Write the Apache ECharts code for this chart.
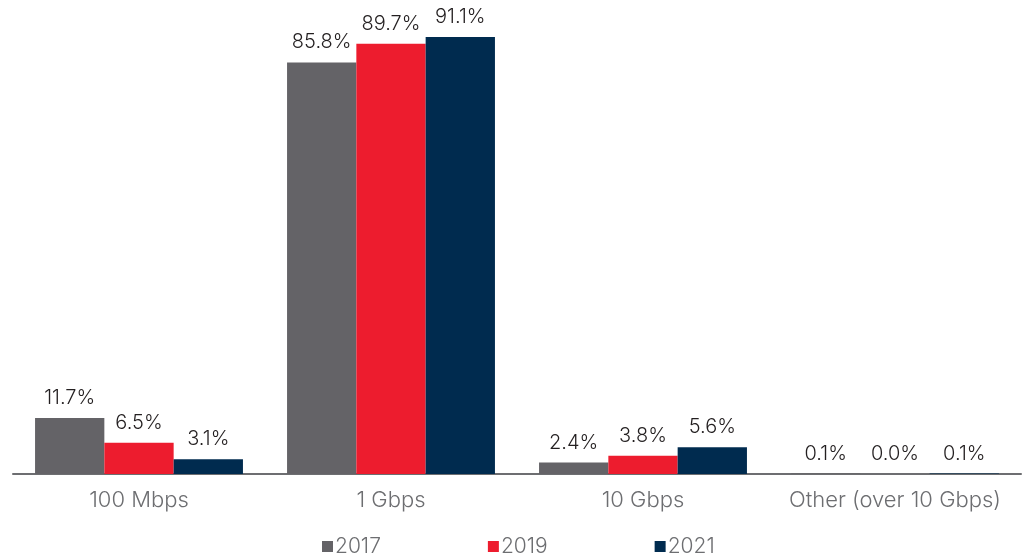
<!DOCTYPE html>
<html><head><meta charset="utf-8">
<script src="https://cdn.jsdelivr.net/npm/echarts@6/dist/echarts.min.js"></script>
<style>html,body{margin:0;padding:0;background:#fff}#c{width:1024px;height:560px}</style>
</head><body><div id="c"></div>
<script>
var categories = ['100 Mbps', '1 Gbps', '10 Gbps', 'Other (over 10 Gbps)'];
var years = ['2017', '2019', '2021'];
var v2017 = [11.7, 85.8, 2.4, 0.1];
var v2019 = [6.5, 89.7, 3.8, 0.0];
var v2021 = [3.1, 91.1, 5.6, 0.1];
var colors = ['#646367', '#ED1C2E', '#002B4F'];
var FONT = 'Inter, "Noto Sans", sans-serif';
function mk(name, data, color) {
  return {
    name: name, type: 'bar', data: data, barGap: '0%', barCategoryGap: '17.5%',
    itemStyle: { color: color },
    label: { show: true, position: 'top', distance: 10, color: '#231F20', fontSize: 20, fontWeight: 300, fontFamily: FONT,
      formatter: function (p) { return p.value.toFixed(1) + '%'; } }
  };
}
var chart = echarts.init(document.getElementById('c'));
chart.setOption({
  animation: false,
  grid: { left: 13, right: 3, top: 37, bottom: 86, containLabel: false },
  legend: { bottom: -2, left: 317, itemWidth: 11, itemHeight: 11, itemGap: 107, icon: 'rect',
    textStyle: { color: '#6D6E71', fontSize: 21, fontWeight: 300, fontFamily: FONT, padding: [0,0,0,-3] }, data: years },
  xAxis: { type: 'category', data: categories,
    axisLine: { lineStyle: { color: '#6D6E71', width: 2 } }, axisTick: { show: false },
    axisLabel: { interval: 0, color: '#6D6E71', fontSize: 22, fontWeight: 300, fontFamily: FONT, margin: 15 } },
  yAxis: { type: 'value', min: 0, max: 91.1, show: false, splitLine: { show: false } },
  series: [mk(years[0], v2017, colors[0]), mk(years[1], v2019, colors[1]), mk(years[2], v2021, colors[2])]
});
</script></body></html>
